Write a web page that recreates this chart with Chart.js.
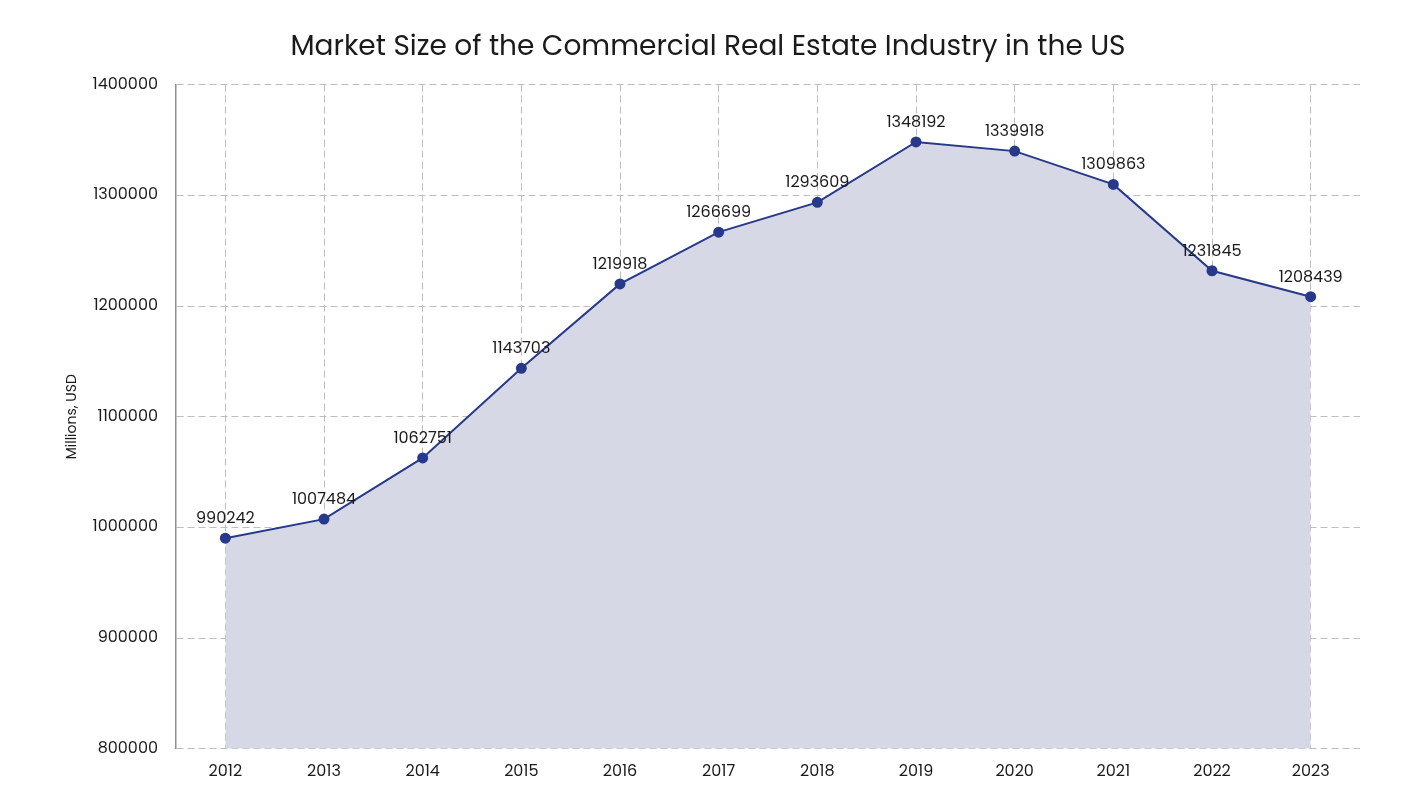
<!DOCTYPE html>
<html>
<head>
<meta charset="utf-8">
<script src="https://cdn.jsdelivr.net/npm/chart.js@4"></script>
<style>
  html, body { margin: 0; padding: 0; background: #fff; }
  #wrap { width: 1406px; height: 808px; }
</style>
</head>
<body>
<div id="wrap"><canvas id="chart"></canvas></div>
<script>
'use strict';

const years = ['2012', '2013', '2014', '2015', '2016', '2017', '2018', '2019', '2020', '2021', '2022', '2023'];
const marketSize = [990242, 1007484, 1062751, 1143703, 1219918, 1266699, 1293609, 1348192, 1339918, 1309863, 1231845, 1208439];
const yMin = 800000;
const yMax = 1400000;
const yStep = 100000;

const FONT = 'Poppins, Inter, "Noto Sans", sans-serif';
const LINE = '#27398a';
const GRID = '#bdbdbd';
const DASH = [7, 4];

// draws each value above its point, using the positions Chart.js computed
const pointLabels = {
    id: 'pointLabels',
    afterDatasetsDraw(chart) {
        const ctx = chart.ctx;
        const meta = chart.getDatasetMeta(0);
        ctx.save();
        ctx.font = '16px ' + FONT;
        ctx.fillStyle = '#1a1a1a';
        ctx.textAlign = 'center';
        ctx.textBaseline = 'bottom';
        meta.data.forEach((pt, i) => {
            ctx.fillText(String(marketSize[i]), pt.x, pt.y - 11);
        });
        ctx.restore();
    },
};

new Chart(document.getElementById('chart'), {
    type: 'line',
    data: {
        labels: years,
        datasets: [{
            data: marketSize,
            borderColor: LINE,
            borderWidth: 2,
            backgroundColor: '#d6d8e6',
            fill: 'start',
            tension: 0,
            pointRadius: 4.5,
            pointBackgroundColor: LINE,
            pointBorderColor: LINE,
        }],
    },
    options: {
        responsive: true,
        maintainAspectRatio: false,
        animation: false,
        layout: { padding: { left: 56, right: 46, top: 0, bottom: 12 } },
        plugins: {
            legend: { display: false },
            tooltip: { enabled: false },
            title: {
                display: true,
                text: 'Market Size of the Commercial Real Estate Industry in the US',
                color: '#1a1a1a',
                font: { family: FONT, size: 28, weight: 'normal' },
                padding: { top: 31, bottom: 20 },
            },
        },
        scales: {
            x: {
                offset: true,
                grid: { offset: false, color: GRID, drawTicks: false },
                border: { display: false, dash: DASH },
                ticks: { color: '#1a1a1a', font: { family: FONT, size: 16 }, padding: 14 },
            },
            y: {
                min: yMin,
                max: yMax,
                grid: { color: GRID, drawTicks: false },
                border: { display: true, color: '#8c909c', width: 1.5, dash: DASH },
                ticks: {
                    stepSize: yStep,
                    color: '#1a1a1a',
                    font: { family: FONT, size: 16 },
                    padding: 18,
                    callback: (v) => String(v),
                },
                title: {
                    display: true,
                    text: 'Millions, USD',
                    color: '#1a1a1a',
                    font: { family: FONT, size: 14 },
                    padding: { top: 8, bottom: 7 },
                },
                afterFit: (scale) => { scale.width = 120; },
            },
        },
    },
    plugins: [pointLabels],
});
</script>
</body>
</html>
